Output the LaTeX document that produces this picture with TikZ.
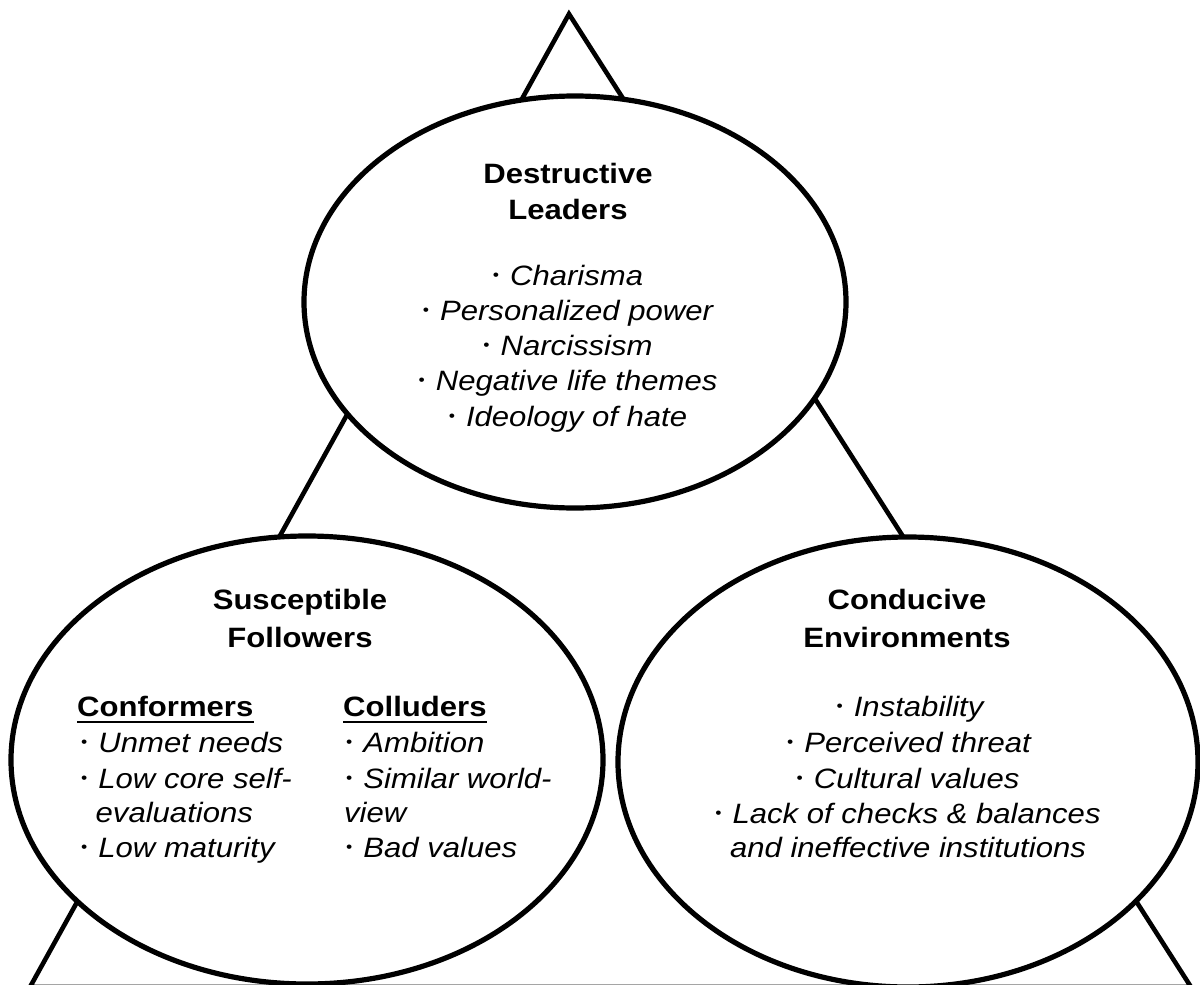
\documentclass[tikz,border=0pt]{standalone}
\usepackage{fontspec}
\setmainfont{Liberation Sans}[FakeStretch=1.11]
\usetikzlibrary{shapes.geometric}
\newcommand\bdot{\raisebox{4.5pt}{\fontsize{16}{16}\selectfont\upshape •}\hspace{11pt}}
\begin{document}
\begin{tikzpicture}[x=1pt,y=-1pt,
  oval/.style={ellipse, draw, line width=5.2pt, fill=white, inner sep=0pt, outer sep=0pt},
  edge/.style={line width=4.6pt, line join=miter},
  head/.style={anchor=base, inner sep=0pt, font=\fontsize{28}{35}\selectfont\bfseries},
  item/.style={anchor=base, inner sep=0pt, font=\fontsize{28}{35}\selectfont\itshape},
  itemw/.style={item, anchor=base west},
  headw/.style={head, anchor=base west},
  ul/.style={line width=2.8pt}]
\useasboundingbox (0,0) rectangle (1200,985);
\clip (0,0) rectangle (1200,985);
\fill[white] (0,0) rectangle (1200,985);
% triangle behind the ovals
\coordinate (apex) at (569,14);
\coordinate (bl) at (30,987);
\coordinate (br) at (1191,987);
\draw[edge] (apex) -- (br) -- (bl) -- cycle;
% ovals
\node[oval, minimum width=542pt, minimum height=412pt] (lead) at (575,302) {};
\node[oval, minimum width=592pt, minimum height=448pt] (foll) at (307,760) {};
\node[oval, minimum width=580pt, minimum height=450pt] (env) at (908,762) {};
% Destructive Leaders
\node[head] (t1) at (568,183) {Destructive};
\node[head] (t2) at (568,219) {Leaders};
\node[item] (t3) at (568,285) {\bdot Charisma};
\node[item] (t4) at (568,320) {\bdot Personalized power};
\node[item] (t5) at (568,355) {\bdot Narcissism};
\node[item] (t6) at (568,390) {\bdot Negative life themes};
\node[item] (t7) at (568,426) {\bdot Ideology of hate};
% Susceptible Followers
\node[head] (s1) at (300,609) {Susceptible};
\node[head] (s2) at (300,647) {Followers};
\node[headw] (cf) at (77,716.5) {Conformers};
\draw[ul] ([yshift=-5.5pt]cf.base west) -- ([yshift=-5.5pt]cf.base east);
\node[itemw] (c1) at (81,752) {\bdot Unmet needs};
\node[itemw] (c2) at (81,788) {\bdot Low core self-};
\node[itemw] (c3) at (95.5,822) {evaluations};
\node[itemw] (c4) at (81,857) {\bdot Low maturity};
\node[headw] (cl) at (343,716.5) {Colluders};
\draw[ul] ([yshift=-5.5pt]cl.base west) -- ([yshift=-5.5pt]cl.base east);
\node[itemw] (d1) at (346,752) {\bdot Ambition};
\node[itemw] (d2) at (346,788) {\bdot Similar world-};
\node[itemw] (d3) at (344,822) {view};
\node[itemw] (d4) at (346,857) {\bdot Bad values};
% Conducive Environments
\node[head] (e1) at (907,609) {Conducive};
\node[head] (e2) at (907,647) {Environments};
\node[item] (e3) at (910,716) {\bdot Instability};
\node[item] (e4) at (909,752) {\bdot Perceived threat};
\node[item] (e5) at (908,788) {\bdot Cultural values};
\node[item] (e6) at (908,823) {\bdot Lack of checks \& balances};
\node[item] (e7) at (908,857) {and ineffective institutions};
\end{tikzpicture}
\end{document}
